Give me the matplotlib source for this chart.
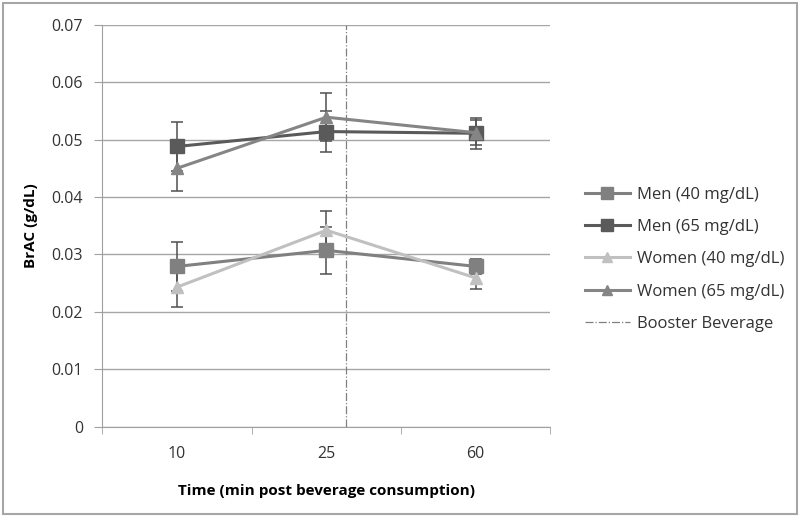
import matplotlib
matplotlib.use('Agg')
import matplotlib.pyplot as plt
from matplotlib.patches import Rectangle
from matplotlib.lines import Line2D
import numpy as np

# -------------------------- 数据 --------------------------
time_labels = ['10', '25', '60']
men_40 = [0.0279, 0.0307, 0.0279]
men_40_err = [0.0042, 0.0041, 0.0013]
men_65 = [0.0488, 0.0514, 0.0511]
men_65_err = [0.0042, 0.0035, 0.0027]
women_40 = [0.0243, 0.0342, 0.0259]
women_40_err = [0.0035, 0.0034, 0.0019]
women_65 = [0.0450, 0.0539, 0.0512]
women_65_err = [0.0039, 0.0042, 0.0022]
booster_pos = 1.134   # 加饮时间（类别坐标）

plt.rcParams['font.family'] = ['Open Sans', 'DejaVu Sans']

fig = plt.figure(figsize=(8, 5.17), dpi=100)
ax = fig.add_axes([0.128, 0.175, 0.56, 0.777])

x = np.arange(len(time_labels))
series = [
    ('Men (40 mg/dL)', men_40, men_40_err, '#808080', 's', 10),
    ('Men (65 mg/dL)', men_65, men_65_err, '#5a5a5a', 's', 10),
    ('Women (40 mg/dL)', women_40, women_40_err, '#c0c0c0', '^', 9),
    ('Women (65 mg/dL)', women_65, women_65_err, '#858585', '^', 9),
]
handles = []
for label, y, err, color, marker, ms in series:
    ax.errorbar(x, y, yerr=err, color=color, marker=marker, markersize=ms,
                linewidth=2.2, ecolor='#505050', elinewidth=1.1, capsize=4,
                capthick=1.1, zorder=3)
    handles.append(Line2D([], [], color=color, marker=marker, markersize=ms * 0.8,
                          linewidth=2.2, label=label))

ax.axvline(booster_pos, color='#808080', linestyle='-.', linewidth=0.9, zorder=2)
handles.append(Line2D([], [], color='#808080', linestyle='-.', linewidth=0.9,
                      label='Booster Beverage'))

# 坐标轴样式
ax.set_xlim(-0.5, 2.5)
ax.set_ylim(0, 0.07)
ax.set_yticks(np.arange(0, 0.071, 0.01))
ax.set_yticklabels(['0'] + [f'{v:.2f}' for v in np.arange(0.01, 0.071, 0.01)])
ax.set_xticks(x)
ax.set_xticklabels(time_labels)
ax.set_xticks([-0.5, 0.5, 1.5, 2.5], minor=True)
ax.tick_params(axis='x', which='major', length=0, pad=14, labelsize=11.5, colors='#333333')
ax.tick_params(axis='x', which='minor', length=5, color='#a0a0a0', direction='out')
ax.tick_params(axis='y', length=6, color='#a0a0a0', pad=8, labelsize=11.5, labelcolor='#333333')
ax.grid(axis='y', color='#a6a6a6', linewidth=1)
ax.set_axisbelow(True)
for s in ['top', 'right']:
    ax.spines[s].set_visible(False)
for s in ['left', 'bottom']:
    ax.spines[s].set_color('#a0a0a0')

ax.set_ylabel('BrAC (g/dL)', fontsize=11, fontweight='bold', labelpad=10)
ax.set_xlabel('Time (min post beverage consumption)', fontsize=11,
              fontweight='bold', labelpad=16)

fig.legend(handles=handles, loc='upper left', bbox_to_anchor=(0.712, 0.668),
           frameon=False, fontsize=12, handlelength=2.7, handletextpad=0.45,
           labelspacing=0.98, labelcolor='#333333')

# 外框
fig.patches.append(Rectangle((0.004, 0.005), 0.992, 0.99, transform=fig.transFigure,
                             fill=False, edgecolor='#a6a6a6', linewidth=1.5))

plt.savefig('out.png', dpi=100)
